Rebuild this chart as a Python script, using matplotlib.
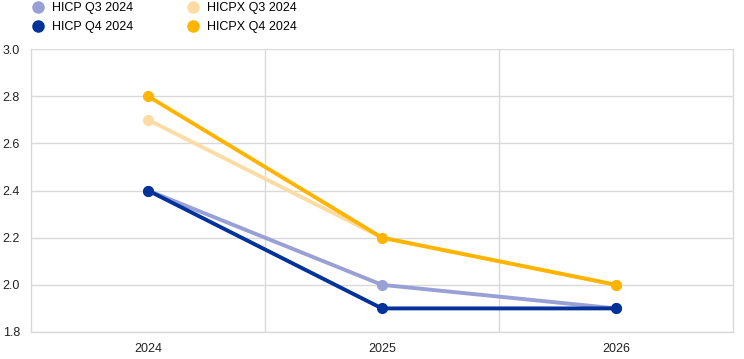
import matplotlib
matplotlib.use("Agg")
import matplotlib.pyplot as plt
from matplotlib.lines import Line2D

plt.rcParams['font.family'] = ['Liberation Sans', 'DejaVu Sans']

years = ["2024", "2025", "2026"]
hicp_q3 = [2.4, 2.0, 1.9]
hicp_q4 = [2.4, 1.9, 1.9]
hicpx_q3 = [2.7, 2.2, 2.0]
hicpx_q4 = [2.8, 2.2, 2.0]
yticks = [1.8, 2.0, 2.2, 2.4, 2.6, 2.8, 3.0]

series = [
    ("HICP Q3 2024", hicp_q3, "#99a0d6"),
    ("HICPX Q3 2024", hicpx_q3, "#fddca3"),
    ("HICP Q4 2024", hicp_q4, "#003299"),
    ("HICPX Q4 2024", hicpx_q4, "#ffb400"),
]

fig = plt.figure(figsize=(7.44, 3.59), dpi=100)
ax = fig.add_axes([31/744, 27/359, 702/744, 283/359])
x = list(range(len(years)))
for name, vals, col in series:
    ax.plot(x, vals, color=col, lw=2.8, marker='o', ms=7, label=name, zorder=3)

ax.set_xlim(-0.5, 2.5)
ax.set_ylim(1.8, 3.0)
ax.set_yticks(yticks)
ax.set_yticklabels([f"{v:.1f}" for v in yticks])
ax.set_xticks(x)
ax.set_xticklabels(years)
ax.set_xticks([0.5, 1.5], minor=True)
ax.grid(axis='y', which='major', color='#d9d9d9', lw=1)
ax.grid(axis='x', which='minor', color='#d9d9d9', lw=1)
ax.tick_params(axis='both', which='both', length=0, labelsize=9, colors='#222222')
ax.tick_params(axis='x', pad=8)
ax.tick_params(axis='y', pad=8)
for s in ax.spines.values():
    s.set_color('#d9d9d9')
    s.set_linewidth(1)
ax.spines['top'].set_visible(False)

handles = [Line2D([], [], ls='none', marker='o', ms=8, color=c) for _, _, c in
           [series[0], series[2], series[1], series[3]]]
labels = ["HICP Q3 2024", "HICP Q4 2024", "HICPX Q3 2024", "HICPX Q4 2024"]
fig.legend(handles, labels, ncol=2, loc='upper left', bbox_to_anchor=(0.028, 1.025),
           frameon=False, fontsize=9, handletextpad=0.6, columnspacing=4.3,
           labelspacing=0.55, handlelength=1.0)

fig.savefig("out.png", dpi=100)
